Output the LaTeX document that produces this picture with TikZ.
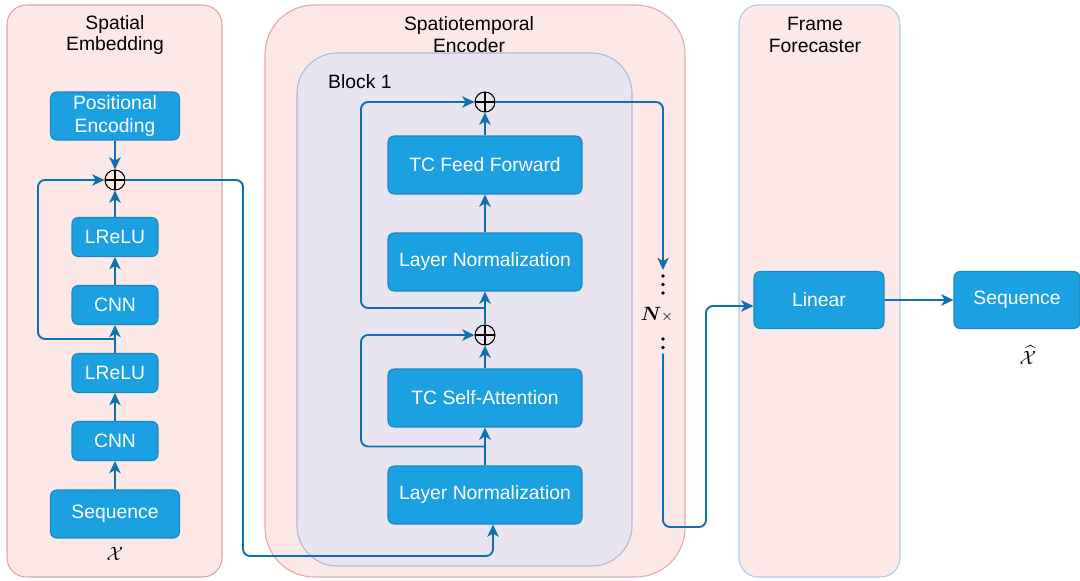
\documentclass[tikz,border=0pt]{standalone}
\usepackage{amsmath,amssymb,bm}
\usepackage{fontspec}
\setmainfont{Liberation Sans}
\usetikzlibrary{positioning, arrows.meta, calc, backgrounds}
\definecolor{boxBlue}{HTML}{1BA1E2}
\definecolor{boxEdge}{HTML}{1A86C4}
\definecolor{linkBlue}{HTML}{0F70B0}
\definecolor{panelPink}{HTML}{FCE8E7}
\definecolor{panelEdge}{HTML}{E0A7A0}
\definecolor{encEdge}{HTML}{E8A6A6}
\definecolor{blockFill}{HTML}{E9E5F0}
\definecolor{blockEdge}{HTML}{AEB8DA}
\definecolor{fcEdge}{HTML}{AECBEF}

\begin{document}
\begin{tikzpicture}[
        x=0.02cm, y=-0.02cm,
        font=\fontsize{11}{13}\selectfont,
        blk/.style={rectangle, draw=boxEdge, fill=boxBlue, text=white,
            rounded corners=3.5pt, align=center, line width=0.6pt, inner sep=1pt},
        unitbox/.style={blk, minimum width=1.72cm, minimum height=0.78cm},
        seqbox/.style={blk, minimum width=2.58cm, minimum height=0.96cm},
        layerbox/.style={blk, minimum width=3.88cm, minimum height=1.16cm},
        outbox/.style={blk, minimum width=2.6cm, minimum height=1.14cm},
        addop/.style={circle, draw=black, line width=0.6pt, minimum size=0.4cm,
            inner sep=0pt, path picture={
                \draw[black, line width=0.6pt]
                (path picture bounding box.north) -- (path picture bounding box.south)
                (path picture bounding box.west) -- (path picture bounding box.east);}},
        link/.style={draw=linkBlue, line width=1.1pt, rounded corners=4pt},
        arrow/.style={link, -{Stealth[length=7pt, width=6.5pt, inset=2pt]}},
        panel/.style={draw=panelEdge, fill=panelPink, line width=0.6pt},
        heading/.style={align=center, text=black, font=\fontsize{11}{12.5}\selectfont},
        dotcol/.style={inner sep=0pt, minimum width=4pt, minimum height=#1},
    ]
    \useasboundingbox (0,0) rectangle (1080,581);

    % Spatial embedding column
    \node[seqbox] (seqin) at (115,514) {Sequence};
    \node (xin) at (115,554) {$\mathcal{X}$};
    \node[unitbox] (cnnA) at (115,441) {CNN};
    \node[unitbox] (reluA) at (115,373) {LReLU};
    \node[unitbox] (cnnB) at (115,305) {CNN};
    \node[unitbox] (reluB) at (115,237) {LReLU};
    \node[addop] (addSE) at (115,180) {};
    \node[seqbox] (posenc) at (115,116) {Positional\\Encoding};

    \draw[arrow] (seqin) -- (cnnA);
    \draw[arrow] (cnnA) -- (reluA);
    \draw[arrow] (reluA) -- (cnnB);
    \draw[arrow] (cnnB) -- (reluB);
    \draw[arrow] (reluB) -- (addSE);
    \draw[arrow] (posenc) -- (addSE);

    % residual around the second conv pair
    \coordinate (tapSE) at ($(reluA.north)!0.5!(cnnB.south)$);
    \draw[arrow] (tapSE) -- ++(-77,0) |- (addSE.west);

    % Spatiotemporal encoder, block 1
    \node[anchor=west] (tBlock) at (322,82) {Block 1};
    \node[layerbox] (lnA) at (485,495) {Layer Normalization};
    \node[layerbox] (attn) at (485,398) {TC Self-Attention};
    \node[addop] (addA) at (485,335) {};
    \node[layerbox] (lnB) at (485,262) {Layer Normalization};
    \node[layerbox] (ffwd) at (485,165) {TC Feed Forward};
    \node[addop] (addB) at (485,102) {};

    % into the encoder
    \coordinate (lnAin) at ($(lnA.south)+(8,0)$);
    \draw[arrow] (addSE.east) -| (243,556) -| (lnAin);

    \draw[arrow] (lnA) -- (attn);
    \coordinate (tapA) at ($(lnA.north)!0.5!(attn.south)$);
    \draw[arrow] (tapA) -- ++(-124,0) |- (addA.west);
    \draw[arrow] (attn) -- (addA);
    \draw[arrow] (addA) -- (lnB);
    \coordinate (tapB) at ($(addA.north)!0.5!(lnB.south)$);
    \draw[arrow] (tapB) -- ++(-124,0) |- (addB.west);
    \draw[arrow] (lnB) -- (ffwd);
    \draw[arrow] (ffwd) -- (addB);

    % repeat marker
    \node[dotcol=0.5cm, anchor=north] (dotsA) at (663,270) {};
    \node[dotcol=0.36cm, anchor=north] (dotsB) at (663,335) {};
    \foreach \k in {0,1,2}
        \fill (dotsA.north) ++(0,6+8.5*\k) circle (1.1pt);
    \foreach \k in {0,1}
        \fill (dotsB.north) ++(0,4+8.5*\k) circle (1.1pt);
    \node (nrep) at (657,315) {$\boldsymbol{N}{\scriptstyle\times}$};
    \draw[arrow] (addB.east) -| (dotsA.north);

    % Frame forecaster
    \node[outbox] (lin) at (819,300) {Linear};
    \node[outbox, minimum width=2.52cm] (seqout) at (1017,300) {Sequence};
    \node (xout) at (1028,355) {$\widehat{\mathcal{X}}$};

    \coordinate (linIn) at ($(lin.west)+(0,6)$);
    \draw[arrow] (dotsB.south) |- (706,527) |- (linIn);
    \draw[arrow] (lin) -- (seqout);

    % panels
    \begin{scope}[on background layer]
        \draw[panel, rounded corners=11pt] (7,5) rectangle (222,577);
        \draw[panel, draw=encEdge, rounded corners=28pt] (265,5) rectangle (685,577);
        \draw[panel, draw=blockEdge, fill=blockFill, rounded corners=23pt] (297,53) rectangle (632,566);
        \draw[panel, draw=fcEdge, rounded corners=11pt] (739,5) rectangle (900,577);
    \end{scope}
    \node[heading] (tSE) at (115,35) {Spatial\\Embedding};
    \node[heading] (tEnc) at (469,35) {Spatiotemporal\\Encoder};
    \node[heading] (tFc) at (815,35) {Frame\\Forecaster};
\end{tikzpicture}
\end{document}
